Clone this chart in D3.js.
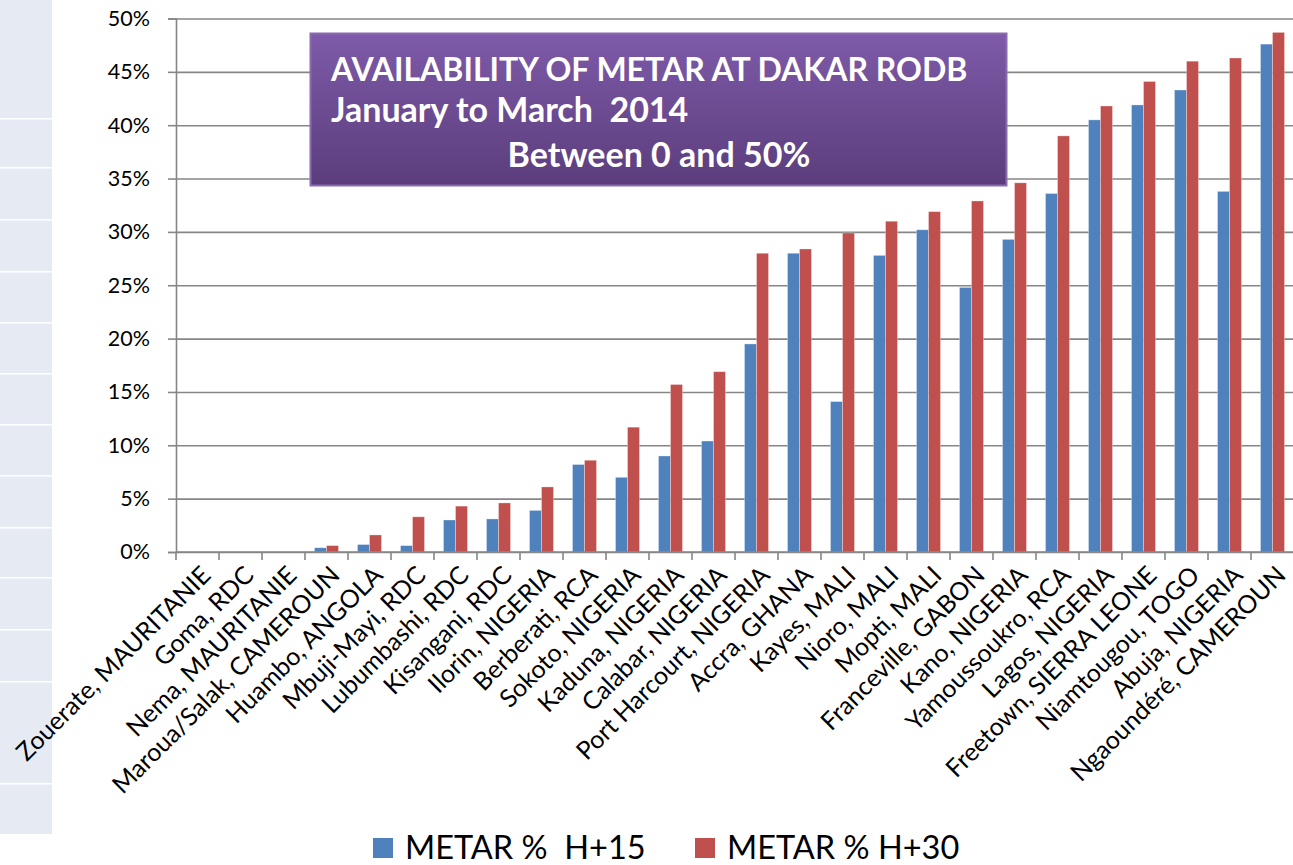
<!DOCTYPE html>
<html>
<head>
<meta charset="utf-8">
<script src="https://cdn.jsdelivr.net/npm/d3@7"></script>
<style>
  body { margin: 0; background: #fff; }
  svg { display: block; font-family: Lato, "Open Sans", sans-serif; }
</style>
</head>
<body>
<div id="chart"></div>
<script>
const categories = ["Zouerate, MAURITANIE", "Goma, RDC", "Nema, MAURITANIE", "Maroua/Salak, CAMEROUN",
    "Huambo, ANGOLA", "Mbuji-Mayi, RDC", "Lubumbashi, RDC", "Kisangani, RDC", "Ilorin, NIGERIA",
    "Berberati, RCA", "Sokoto, NIGERIA", "Kaduna, NIGERIA", "Calabar, NIGERIA", "Port Harcourt, NIGERIA",
    "Accra, GHANA", "Kayes, MALI", "Nioro, MALI", "Mopti, MALI", "Franceville, GABON", "Kano, NIGERIA",
    "Yamoussoukro, RCA", "Lagos, NIGERIA", "Freetown, SIERRA LEONE", "Niamtougou, TOGO", "Abuja, NIGERIA",
    "Ngaoundéré, CAMEROUN"];
const metarH15 = [0, 0, 0, 0.4, 0.7, 0.6, 3.0, 3.1, 3.9, 8.2, 7.0, 9.0, 10.4, 19.5, 28.0, 14.1, 27.8, 30.2,
    24.8, 29.3, 33.6, 40.5, 41.9, 43.3, 33.8, 47.6];
const metarH30 = [0, 0, 0, 0.6, 1.6, 3.3, 4.3, 4.6, 6.1, 8.6, 11.7, 15.7, 16.9, 28.0, 28.4, 29.9, 31.0, 31.9,
    32.9, 34.6, 39.0, 41.8, 44.1, 46.0, 46.3, 48.7];
const seriesNames = ["METAR %  H+15", "METAR % H+30"];
const yTicks = [0, 5, 10, 15, 20, 25, 30, 35, 40, 45, 50];
const titleLines = ["AVAILABILITY OF METAR AT DAKAR RODB", "January to March  2014", "Between 0 and 50%"];

const width = 1293, height = 865;
const margin = { top: 18.5, bottom: 313, left: 176, right: -1 };
const colors = ["#4f81bd", "#c0504d"];
const axisColor = "#868686";

const svg = d3.select("#chart").append("svg")
    .attr("width", width)
    .attr("height", height);

// decorative strip on the left (slide background)
const stripBreaks = [0, 118, 167, 219, 271, 322, 373, 424, 475, 527, 577, 629, 681, 783, 834];
svg.append("g").selectAll("rect")
    .data(stripBreaks.slice(0, -1))
    .join("rect")
    .attr("x", 0)
    .attr("y", (d, i) => i === 0 ? d : d + 1.5)
    .attr("width", 52)
    .attr("height", (d, i) => stripBreaks[i + 1] - d - (i === 0 ? 0 : 1.5))
    .attr("fill", "#e6ebf3");

const x = d3.scaleBand()
    .domain(categories)
    .range([margin.left, width - margin.right]);

const xSub = d3.scaleBand()
    .domain([0, 1])
    .range([0, x.bandwidth()])
    .paddingOuter(0.79);

const y = d3.scaleLinear()
    .domain([0, 50])
    .range([height - margin.bottom, margin.top]);

// gridlines
svg.append("g")
    .attr("transform", `translate(${margin.left},0)`)
    .call(d3.axisLeft(y).tickValues(yTicks).tickSize(-(width - margin.left)).tickFormat(""))
    .call(g => g.select(".domain").remove())
    .call(g => g.selectAll("line").attr("stroke", axisColor).attr("stroke-width", 1.6));

// bars
const series = [metarH15, metarH30];
series.forEach((vals, s) => {
    svg.append("g").selectAll("rect")
        .data(vals)
        .join("rect")
        .attr("x", (d, i) => x(categories[i]) + xSub(s))
        .attr("y", d => y(d))
        .attr("width", xSub.bandwidth())
        .attr("height", d => y(0) - y(d))
        .attr("fill", colors[s])
        .attr("stroke", "rgba(255,255,255,0.4)")
        .attr("stroke-width", 0.8);
});

// y axis
svg.append("g")
    .attr("transform", `translate(${margin.left},0)`)
    .call(d3.axisLeft(y).tickValues(yTicks).tickSize(8).tickPadding(18).tickFormat(d => d + "%"))
    .call(g => g.select(".domain").attr("stroke", axisColor).attr("stroke-width", 1.6))
    .call(g => g.selectAll("line").attr("stroke", axisColor).attr("stroke-width", 1.6))
    .call(g => g.selectAll("text")
        .attr("fill", "#000")
        .style("font-size", "21.5px")
        .style("font-family", "Lato, sans-serif"));

// x axis line and boundary ticks
const xAxis = svg.append("g");
xAxis.append("line")
    .attr("x1", margin.left)
    .attr("x2", width)
    .attr("y1", y(0))
    .attr("y2", y(0))
    .attr("stroke", axisColor)
    .attr("stroke-width", 1.6);
xAxis.selectAll(".xtick")
    .data(categories)
    .join("line")
    .attr("class", "xtick")
    .attr("x1", d => x(d))
    .attr("x2", d => x(d))
    .attr("y1", y(0))
    .attr("y2", y(0) + 8)
    .attr("stroke", axisColor)
    .attr("stroke-width", 1.6);

// category labels, rotated
xAxis.selectAll(".xlabel")
    .data(categories)
    .join("text")
    .attr("class", "xlabel")
    .attr("transform", d => `translate(${x(d) + x.bandwidth() / 2 + 2},${y(0) + 12}) rotate(-45)`)
    .attr("text-anchor", "end")
    .attr("dy", "0.72em")
    .style("font-size", "25px")
    .attr("fill", "#000")
    .text(d => d);

// title box
const defs = svg.append("defs");
const grad = defs.append("linearGradient")
    .attr("id", "titleGrad")
    .attr("x1", 0).attr("y1", 0).attr("x2", 0).attr("y2", 1);
grad.append("stop").attr("offset", "0%").attr("stop-color", "#7e5aa8");
grad.append("stop").attr("offset", "100%").attr("stop-color", "#5b3d7c");

const title = svg.append("g");
title.append("rect")
    .attr("x", 310.5)
    .attr("y", 33.5)
    .attr("width", 696)
    .attr("height", 152)
    .attr("fill", "url(#titleGrad)")
    .attr("stroke", "#8a6bb0")
    .attr("stroke-width", 2);
title.selectAll("text")
    .data(titleLines)
    .join("text")
    .attr("x", (d, i) => i === 2 ? 659 : 331)
    .attr("y", (d, i) => [81, 122, 167][i])
    .attr("text-anchor", (d, i) => i === 2 ? "middle" : "start")
    .attr("fill", "#fff")
    .style("font-size", (d, i) => i === 0 ? "32px" : "34px")
    .style("font-weight", "bold")
    .style("white-space", "pre")
    .text(d => d);

// legend
const legendX = [373, 695];
const legend = svg.append("g");
legend.selectAll("rect")
    .data(seriesNames)
    .join("rect")
    .attr("x", (d, i) => legendX[i])
    .attr("y", 838)
    .attr("width", 20)
    .attr("height", 20)
    .attr("fill", (d, i) => colors[i]);
legend.selectAll("text")
    .data(seriesNames)
    .join("text")
    .attr("x", (d, i) => legendX[i] + 32)
    .attr("y", 859)
    .attr("fill", "#000")
    .style("font-size", "32.5px")
    .style("white-space", "pre")
    .text(d => d);
</script>
</body>
</html>
